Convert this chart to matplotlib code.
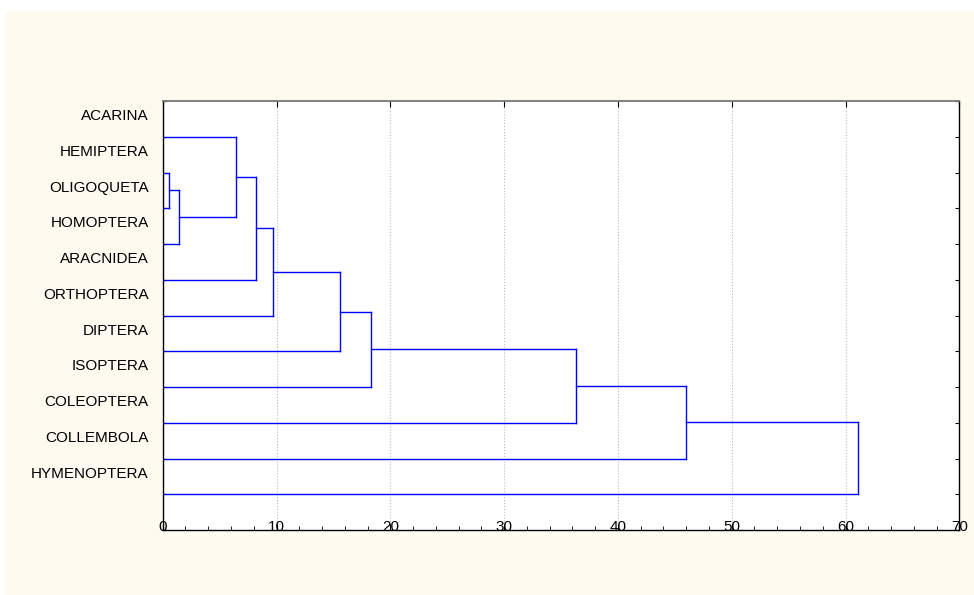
import matplotlib.pyplot as plt
from matplotlib.patches import Rectangle

plt.rcParams['font.family'] = ['Liberation Sans', 'DejaVu Sans']

# leaves, top to bottom
labels = ['ACARINA', 'HEMIPTERA', 'OLIGOQUETA', 'HOMOPTERA', 'ARACNIDEA',
          'ORTHOPTERA', 'DIPTERA', 'ISOPTERA', 'COLEOPTERA', 'COLLEMBOLA',
          'HYMENOPTERA']

# merges: (cluster a, cluster b, linkage distance); new clusters numbered 11, 12, ...
merge_a = [1, 11, 0, 13, 14, 15, 16, 17, 18, 19]
merge_b = [2, 3, 12, 4, 5, 6, 7, 8, 9, 10]
merge_h = [0.58, 1.41, 6.41, 8.23, 9.66, 15.6, 18.3, 36.3, 46.0, 61.1]

fig = plt.figure(figsize=(9.74, 5.95), dpi=100, facecolor='white')
fig.patches.append(Rectangle((6 / 974, 0), 1, 1 - 11 / 595, transform=fig.transFigure,
                             facecolor='#fefaef', edgecolor='none', zorder=-1))
ax = fig.add_axes([162.7 / 974, 1 - 530 / 595, (959.3 - 162.7) / 974, (530 - 101) / 595])
ax.set_facecolor('white')

# node positions: (distance, row)
pos = {i: (0.0, i + 1.0) for i in range(len(labels))}
for k, (a, b, h) in enumerate(zip(merge_a, merge_b, merge_h)):
    xa, ya = pos[a]
    xb, yb = pos[b]
    ax.plot([xa, h], [ya, ya], color='#0000ff', lw=1)
    ax.plot([xb, h], [yb, yb], color='#0000ff', lw=1)
    ax.plot([h, h], [ya, yb], color='#0000ff', lw=1)
    pos[len(labels) + k] = (h, (ya + yb) / 2)

ax.set_xlim(0, 70)
ax.set_ylim(len(labels) + 1, 0)

ax.set_xticks(range(0, 71, 10))
ax.set_xticks(range(0, 71, 2), minor=True)
ax.tick_params(axis='x', which='major', direction='in', length=4, top=True,
               labelsize=11, pad=-7.5)
ax.tick_params(axis='x', which='minor', direction='in', length=3, top=False)

ax.set_yticks(range(0, len(labels) + 2))
ax.set_yticklabels([])
ax.set_yticks([i + 1 - 0.62 for i in range(len(labels))], minor=True)
ax.set_yticklabels(labels, minor=True)
ax.tick_params(axis='y', which='major', direction='in', length=3, left=True, right=True)
ax.tick_params(axis='y', which='minor', length=0, labelsize=11, pad=10)

ax.grid(True, axis='x', which='major', linestyle=':', color='#bbbbbb', lw=0.8)
ax.xaxis.get_gridlines()[0].set_visible(False)
ax.xaxis.get_gridlines()[-1].set_visible(False)

for side in ['left', 'right', 'bottom']:
    ax.spines[side].set_color('black')
    ax.spines[side].set_linewidth(1)
ax.spines['top'].set_color('#777777')
ax.spines['top'].set_linewidth(1.3)

fig.savefig('out.png', dpi=100, facecolor=fig.get_facecolor())
